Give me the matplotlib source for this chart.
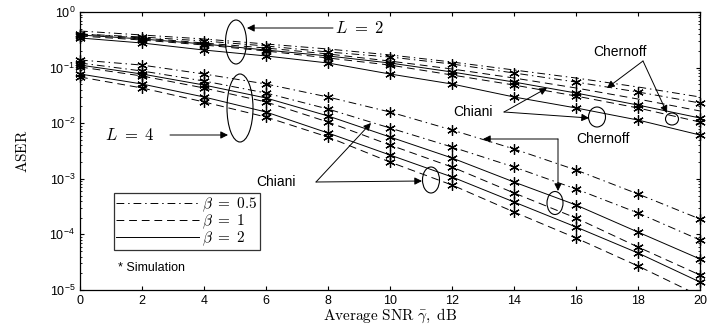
import numpy as np
import matplotlib
matplotlib.use('Agg')
import matplotlib.pyplot as plt
from matplotlib.patches import Ellipse
from matplotlib.lines import Line2D

plt.rcParams['font.family'] = ['Liberation Sans', 'DejaVu Sans']
plt.rcParams['mathtext.fontset'] = 'cm'

# SNR axis (dB)
snr_db = [0, 2, 4, 6, 8, 10, 12, 14, 16, 18, 20]

# L = 2 curves (ASER)
l2_a = [0.455, 0.386, 0.327, 0.266, 0.216, 0.169, 0.126, 0.0906, 0.065, 0.0448, 0.0296]
l2_b = [0.402, 0.355, 0.301, 0.245, 0.191, 0.155, 0.116, 0.080, 0.055, 0.0364, 0.0231]
l2_c = [0.402, 0.341, 0.277, 0.225, 0.176, 0.131, 0.0944, 0.065, 0.043, 0.0272, 0.0166]
l2_d = [0.386, 0.327, 0.266, 0.207, 0.162, 0.121, 0.0834, 0.055, 0.0349, 0.0212, 0.0124]
l2_e = [0.370, 0.313, 0.255, 0.199, 0.149, 0.111, 0.0736, 0.0486, 0.0308, 0.0188, 0.0105]
l2_f = [0.341, 0.277, 0.207, 0.162, 0.121, 0.0767, 0.0507, 0.0296, 0.0188, 0.0114, 0.00613]

# L = 4 curves (ASER)
l4_a = [0.137, 0.111, 0.0767, 0.0507, 0.0296, 0.0159, 0.00755, 0.00344, 0.00144, 0.000533, 0.000189]
l4_b = [0.121, 0.0869, 0.0574, 0.0349, 0.0180, 0.0082, 0.00373, 0.00163, 0.000656, 0.000243, 0.0000793]
l4_c = [0.111, 0.0767, 0.0486, 0.0284, 0.0135, 0.00565, 0.00237, 0.000875, 0.000338, 0.000110, 0.0000361]
l4_d = [0.1026, 0.0706, 0.043, 0.0241, 0.0105, 0.00405, 0.00163, 0.000556, 0.000197, 0.0000593, 0.0000186]
l4_e = [0.0767, 0.0507, 0.0296, 0.0159, 0.00667, 0.00268, 0.00108, 0.000383, 0.000136, 0.0000463, 0.0000139]
l4_f = [0.0678, 0.043, 0.0241, 0.0129, 0.00565, 0.0020, 0.000773, 0.000253, 0.0000861, 0.000027, 0.0000078]

curves_l2 = [l2_a, l2_b, l2_c, l2_d, l2_e, l2_f]
styles_l2 = ['-.', '-.', '--', '-', '--', '-']
sim_l2 = [False, True, False, True, True, True]

curves_l4 = [l4_a, l4_b, l4_c, l4_d, l4_e, l4_f]
styles_l4 = ['-.', '-.', '-', '--', '-', '--']
sim_l4 = [True, True, True, True, True, True]

legend_labels = [r'$\beta\ =\ 0.5$', r'$\beta\ =\ 1$', r'$\beta\ =\ 2$']
legend_styles = ['-.', '--', '-']

# matlab-like dash patterns
DASH = {'-': '-', '--': (0, (8, 5)), '-.': (0, (8, 4, 1.5, 4))}

fig = plt.figure(figsize=(7.08, 3.27), dpi=100)
ax = fig.add_axes([80/708, 37/327, 620/708, 278/327])

star = (6, 2, 0)
x = np.array(snr_db)
for curves, styles, sims in [(curves_l2, styles_l2, sim_l2), (curves_l4, styles_l4, sim_l4)]:
    for y, ls, s in zip(curves, styles, sims):
        y = np.array(y)
        ax.plot(x, y, color='k', ls=DASH[ls], lw=0.7)
        if s:
            m = y >= 1e-5
            ax.plot(x[m], y[m], ls='none', marker=star, ms=7.5, mew=0.9,
                    color='k', clip_on=False)

ax.set_yscale('log')
ax.set_xlim(0, 20)
ax.set_ylim(1e-5, 1)
ax.set_xticks(range(0, 21, 2))
ax.tick_params(which='both', direction='in', top=True, right=True, labelsize=9)
ax.tick_params(which='major', length=3)
ax.tick_params(which='minor', length=1.5)
for sp in ax.spines.values():
    sp.set_linewidth(0.9)

ax.set_xlabel(r'$\mathrm{Average\ SNR}\ \bar{\gamma}\mathrm{,\ dB}$', fontsize=11, labelpad=0)
ax.set_ylabel(r'$\mathrm{ASER}$', fontsize=11, labelpad=14)

# annotations (positions in pixels of the reference, mapped to axes fraction)
def P(px, py):
    return ((px - 80) / 620, (290 - py) / 278)

def ell(px, py, w, h):
    cx, cy = P(px, py)
    ax.add_patch(Ellipse((cx, cy), w / 620, h / 278, transform=ax.transAxes,
                         fill=False, ec='k', lw=0.8))

def arrow(p0, p1):
    ax.annotate('', xy=P(*p1), xytext=P(*p0), xycoords='axes fraction',
                textcoords='axes fraction',
                arrowprops=dict(arrowstyle='-|>', color='k', lw=0.7,
                                mutation_scale=11, shrinkA=0, shrinkB=0))

ell(236, 42, 21, 44)
ell(240, 108, 26, 68)
ell(672, 119, 13, 12)
ell(597, 117, 17, 20)
ell(555, 203, 16, 23)
ell(431, 180, 17, 26)

ax.text(*P(360, 28), r'$L\ =\ 2$', fontsize=12, ha='center', va='center', transform=ax.transAxes)
arrow((333, 28), (247, 28))
ax.text(*P(130, 135), r'$L\ =\ 4$', fontsize=12, ha='center', va='center', transform=ax.transAxes)
arrow((170, 135), (228, 135))

ax.text(*P(620, 52), 'Chernoff', fontsize=10, ha='center', va='center', transform=ax.transAxes)
arrow((643, 61), (607, 88))
arrow((643, 61), (667, 113))

ax.text(*P(473, 112), 'Chiani', fontsize=10, ha='center', va='center', transform=ax.transAxes)
arrow((504, 112), (547, 88))
arrow((504, 112), (589, 118))

ax.text(*P(603, 139), 'Chernoff', fontsize=10, ha='center', va='center', transform=ax.transAxes)
arrow((558, 139), (483, 139))
arrow((558, 139), (558, 191))

ax.text(*P(276, 182), 'Chiani', fontsize=10, ha='center', va='center', transform=ax.transAxes)
arrow((316, 182), (371, 123))
arrow((316, 182), (422, 181))

ax.text(*P(118, 268), '* Simulation', fontsize=9, ha='left', va='center', transform=ax.transAxes)

handles = [Line2D([], [], color='k', ls=DASH[ls], lw=0.7) for ls in legend_styles]
leg = ax.legend(handles, legend_labels, loc='lower left',
                bbox_to_anchor=P(114, 250), fontsize=11, frameon=True,
                fancybox=False, edgecolor='k', handlelength=5.4,
                borderaxespad=0, borderpad=0.15, labelspacing=-0.1,
                handletextpad=0.2)
leg.get_frame().set_linewidth(0.9)

fig.savefig('out.png', dpi=100)
